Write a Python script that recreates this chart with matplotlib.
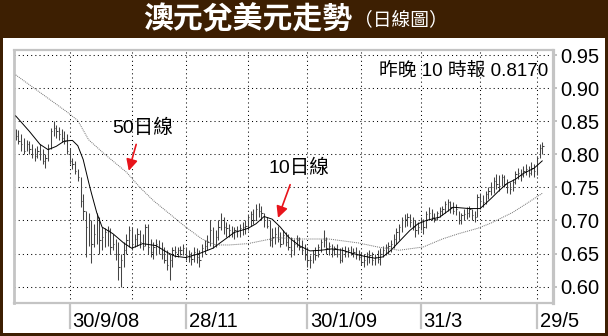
import numpy as np
import pandas as pd
import matplotlib
matplotlib.use("Agg")
import matplotlib.pyplot as plt
from matplotlib.patches import Rectangle
import matplotlib.transforms as mtransforms

# trading days, Sep 1 2008 .. Jun 2 2009 (index 0 = Sep 1)
days = pd.bdate_range("2008-09-01", "2009-06-02")

# daily high / low / close, from Sep 2 2008 (index 1) to Jun 2 2009
highs = [
    .838, .836, .830, .825, .822, .820, .815, .810, .812, .815, .808, .800, .815, .840, .850, .845, .842, .838, .835, .830, .810,  # Sep
    .795, .790, .778, .765, .740, .715, .712, .700, .695, .712, .705, .690, .688, .692, .688, .680, .672, .668, .650, .668, .680, .692, .690,  # Oct
    .680, .688, .685, .680, .695, .695, .672, .668, .672, .670, .668, .660, .655, .650, .660, .662, .660, .662, .665, .660,  # Nov
    .655, .652, .660, .658, .655, .665, .670, .678, .700, .690, .685, .700, .712, .705, .698, .695, .692, .690, .692, .695, .698, .700, .710,  # Dec
    .715, .718, .725, .727, .722, .712, .705, .700, .688, .690, .692, .682, .685, .682, .680, .675, .672, .678, .675, .670, .665, .660,  # Jan
    .648, .655, .660, .665, .672, .685, .675, .668, .665, .662, .665, .658, .660, .662, .660, .662, .658, .660, .655, .652,  # Feb
    .650, .652, .655, .652, .650, .655, .658, .662, .665, .668, .670, .680, .688, .695, .705, .710, .712, .710, .705, .700, .698, .705,  # Mar
    .702, .715, .720, .718, .712, .715, .720, .722, .730, .733, .730, .728, .725, .715, .712, .718, .720, .722, .718, .715, .740, .742,  # Apr
    .738, .745, .750, .758, .765, .770, .768, .770, .768, .762, .758, .762, .775, .780, .778, .782, .785, .782, .788, .785, .798, .815, .818,  # May-Jun
]
lows = [
    .822, .815, .805, .800, .805, .800, .795, .790, .795, .792, .785, .780, .790, .808, .828, .825, .822, .818, .815, .800, .786,
    .778, .770, .760, .720, .700, .645, .662, .635, .660, .665, .650, .655, .660, .662, .650, .655, .640, .610, .600, .630, .650, .660, .655,
    .660, .662, .658, .655, .662, .650, .645, .642, .648, .650, .642, .635, .625, .610, .630, .645, .645, .648, .648, .640,
    .638, .632, .638, .635, .630, .645, .650, .655, .662, .658, .660, .670, .685, .680, .675, .675, .675, .672, .675, .675, .678, .680, .685,
    .692, .695, .700, .705, .700, .690, .688, .662, .660, .665, .668, .660, .665, .662, .655, .645, .648, .660, .655, .650, .640, .630,
    .628, .635, .640, .645, .652, .660, .650, .648, .645, .648, .645, .635, .638, .645, .645, .648, .645, .642, .640, .632,
    .630, .632, .635, .632, .632, .635, .632, .645, .648, .650, .652, .658, .665, .670, .682, .690, .692, .690, .685, .675, .680, .685,
    .680, .688, .700, .700, .698, .700, .705, .708, .712, .715, .712, .710, .708, .695, .695, .700, .702, .705, .700, .698, .705, .718,
    .720, .725, .732, .738, .742, .748, .745, .752, .750, .742, .740, .745, .755, .762, .760, .765, .768, .765, .768, .765, .768, .795, .800,
]
closes = [
    .828, .820, .815, .805, .815, .808, .800, .798, .805, .800, .790, .795, .810, .835, .840, .835, .830, .825, .820, .805, .790,
    .785, .775, .765, .730, .715, .690, .700, .665, .680, .700, .670, .675, .682, .685, .660, .665, .650, .630, .640, .655, .670, .685, .665,
    .672, .680, .668, .662, .690, .660, .652, .660, .665, .658, .650, .640, .632, .640, .655, .652, .655, .655, .658, .648,
    .645, .642, .652, .645, .640, .658, .662, .668, .685, .665, .675, .690, .700, .690, .688, .685, .682, .685, .684, .688, .690, .692, .705,
    .710, .700, .718, .715, .712, .700, .692, .670, .675, .680, .672, .665, .678, .668, .660, .655, .665, .670, .660, .655, .648, .640,
    .640, .650, .648, .660, .668, .670, .658, .662, .655, .658, .650, .640, .655, .652, .655, .650, .652, .648, .645, .638,
    .640, .645, .648, .640, .645, .642, .650, .655, .660, .662, .665, .672, .682, .690, .700, .702, .705, .698, .690, .685, .690, .700,
    .690, .710, .712, .705, .702, .712, .715, .718, .725, .728, .720, .715, .718, .700, .708, .710, .712, .718, .708, .705, .735, .730,
    .728, .740, .745, .750, .760, .755, .752, .765, .755, .750, .748, .758, .770, .772, .768, .775, .778, .772, .780, .775, .795, .810, .812,
]

# moving averages (trading-day index -> value)
ma10_idx = [1, 6, 10, 13, 16, 19, 22, 24, 26, 28, 29, 31, 33, 37, 41, 44, 48, 53, 57, 60,
            64, 69, 74, 78, 82, 87, 90, 93, 96, 99, 102, 106, 110, 114, 118, 122, 126, 130, 134, 137,
            140, 143, 147, 150, 153, 158, 163, 169, 173, 177, 180, 183, 186, 189, 193, 196]
ma10_val = [.858, .835, .815, .807, .812, .820, .821, .813, .792, .758, .742, .712, .690, .680, .666, .658, .665, .662, .652, .646,
            .644, .650, .658, .670, .682, .688, .695, .706, .702, .690, .675, .662, .654, .655, .657, .655, .650, .646, .643, .645,
            .655, .668, .685, .695, .700, .705, .720, .718, .718, .733, .745, .756, .762, .771, .779, .790]
ma50_idx = [1, 20, 24, 28, 34, 42, 47, 52, 58, 64, 70, 75, 80, 87, 93, 98, 106, 117, 128, 135,
            143, 152, 159, 165, 172, 177, 185, 190, 196]
ma50_val = [.920, .864, .851, .822, .800, .773, .750, .730, .710, .690, .672, .663, .663, .665, .670, .674, .672, .672, .666, .660,
            .655, .660, .672, .680, .688, .696, .712, .725, .741]

month_ends = ["2008-09-30", "2008-10-31", "2008-11-28", "2008-12-31", "2009-01-30",
              "2009-02-27", "2009-03-31", "2009-04-30", "2009-05-29"]
label_days = ["2008-09-30", "2008-11-28", "2009-01-30", "2009-03-31", "2009-05-29"]
label_text = ["30/9/08", "28/11", "30/1/09", "31/3", "29/5"]
y_ticks = [0.60, 0.65, 0.70, 0.75, 0.80, 0.85, 0.90, 0.95]

BROWN = "#3d1f02"
RED = "#e8141b"
LAT = ["Liberation Sans", "Noto Sans CJK TC"]

W, H = 608, 336
fig = plt.figure(figsize=(W / 100, H / 100), dpi=100)
fig.patch.set_facecolor(BROWN)
fig.add_artist(Rectangle((3 / W, 3 / H), 602 / W, 295 / H, transform=fig.transFigure,
                         facecolor="white", edgecolor="none", zorder=0))

fig.text(352 / W, 1 - 19 / H, "澳元兌美元走勢", ha="right", va="center", color="white",
         fontsize=21.5, fontweight="heavy", family="Noto Sans CJK TC")
fig.text(354 / W, 1 - 20 / H, "（日線圖）", ha="left", va="center", color="white",
         fontsize=13.5, family="Noto Sans CJK TC")

ax = fig.add_axes([14 / W, 33 / H, 539 / W, 253 / H])
ax.set_facecolor("white")

pos = np.arange(1, len(closes) + 1)
ax.vlines(pos, lows, highs, color="#444444", lw=0.75, zorder=3)
ax.hlines(closes, pos, pos + 0.5, color="#444444", lw=0.75, zorder=3)
ax.plot(ma10_idx, ma10_val, color="black", lw=0.7, zorder=4)
ax.plot(ma50_idx, ma50_val, color="#707070", lw=0.7, ls=(0, (1, 1)), zorder=4)

# grid
for d in month_ends:
    ax.axvline(days.get_loc(pd.Timestamp(d)), color="black", lw=0.75, ls=(0, (1, 3)), zorder=1)
for v in y_ticks:
    ax.axhline(v, color="black", lw=0.75, ls=(0, (1, 3)), zorder=1)

ax.set_xlim(0.37, 200)
ax.set_ylim(0.5753, 0.9576)

for side, w in [("left", 2.0), ("top", 1.6), ("bottom", 1.6), ("right", 2.3)]:
    ax.spines[side].set_color("#c4c4c4")
    ax.spines[side].set_linewidth(w)

ax.set_yticks(y_ticks)
ax.set_yticklabels([f"{v:.2f}" for v in y_ticks])
ax.tick_params(axis="y", left=False, labelleft=False, right=True, labelright=True,
               length=3, width=1.2, color="#b8b8b8", pad=2, labelsize=14.5)
for t in ax.get_yticklabels():
    t.set_family(LAT)
ax.set_xticks([])

# date separators and labels under the plot
xt = ax.get_xaxis_transform()
lab_tr = mtransforms.offset_copy(xt, fig=fig, x=3, y=-24, units="dots")
for d, lab in zip(label_days, label_text):
    p = days.get_loc(pd.Timestamp(d))
    ax.plot([p, p], [-0.008, -0.1], transform=xt, color="#c4c4c4", lw=1.6, clip_on=False)
    ax.text(p, 0, lab, transform=lab_tr, ha="left", va="baseline", fontsize=14.5, family=LAT)

# annotations
ax.text(48.1, 0.840, "50日線", ha="center", va="center", fontsize=14, family=LAT)
ax.annotate("", xy=(42.6, 0.771), xytext=(45.9, 0.819),
            arrowprops=dict(arrowstyle="-|>", color=RED, lw=1.2, mutation_scale=17))
ax.text(105.9, 0.779, "10日線", ha="center", va="center", fontsize=14, family=LAT)
ax.annotate("", xy=(97.8, 0.700), xytext=(103.0, 0.758),
            arrowprops=dict(arrowstyle="-|>", color=RED, lw=1.2, mutation_scale=17))
ax.text(0.991, 0.917, "昨晚 10 時報 0.8170", transform=ax.transAxes, ha="right", va="center",
        fontsize=13.5, family=LAT)

fig.savefig("out.png", dpi=100, facecolor=fig.get_facecolor())
